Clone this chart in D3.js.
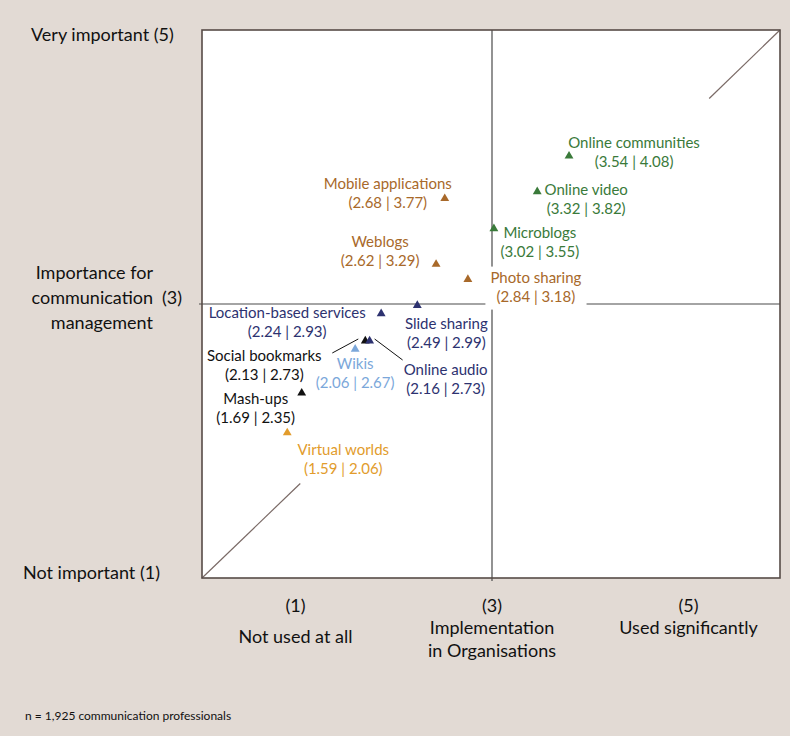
<!DOCTYPE html>
<html>
<head>
<meta charset="utf-8">
<script src="https://cdn.jsdelivr.net/npm/d3@7"></script>
<style>
  body{margin:0;background:#e2dad4;}
  svg{display:block;font-family:Lato,"Open Sans",sans-serif;}
</style>
</head>
<body>
<svg id="drawing_region"></svg>
<script>
// tools, implementation in organisations (x) and importance (y)
const tools = ["Online communities","Online video","Microblogs","Photo sharing","Mobile applications","Weblogs",
  "Location-based services","Slide sharing","Social bookmarks","Online audio","Wikis","Mash-ups","Virtual worlds"]
const implementation = [3.54,3.32,3.02,2.84,2.68,2.62,2.24,2.49,2.13,2.16,2.06,1.69,1.59]
const importance = [4.08,3.82,3.55,3.18,3.77,3.29,2.93,2.99,2.73,2.73,2.67,2.35,2.06]
const groups = ["green","green","green","brown","brown","brown","navy","navy","black","navy","light","black","gold"]
const xTicks = [{v:1,lines:["(1)","","Not used at all"]},{v:3,lines:["(3)","Implementation","in Organisations"]},{v:5,lines:["(5)","Used significantly"]}]
const note = "n = 1,925 communication professionals"

const colors = {green:"#3a7a3a",brown:"#a8692a",navy:"#2d3270",black:"#111",light:"#7ba7da",gold:"#e29c2c"}
// label offsets from point (center of first line)
const offsets = {
  "Online communities":[65,-13],"Online video":[49,-2],"Microblogs":[46,4],"Photo sharing":[68,-2],
  "Mobile applications":[-57,-15],"Weblogs":[-56,-23],"Location-based services":[-94,-1],
  "Slide sharing":[29,18],"Social bookmarks":[-101,15],"Online audio":[76,29],"Wikis":[0,15],
  "Mash-ups":[-46,6],"Virtual worlds":[56,17]
}

const width = 790, height = 736
const margin = {top:30,right:10,bottom:158,left:202}
const svg = d3.select("#drawing_region").attr("width",width).attr("height",height)

const xscale = d3.scaleLinear().domain([1,5]).range([margin.left,width-margin.right])
const yscale = d3.scaleLinear().domain([1,5]).range([height-margin.bottom,margin.top])

svg.append("rect")
  .attr("x",xscale(1)).attr("y",yscale(5))
  .attr("width",xscale(5)-xscale(1)).attr("height",yscale(1)-yscale(5))
  .attr("fill","white")

// diagonal (broken in the middle)
const diag = [[[1,1],[1.68,1.69]],[[4.51,4.5],[5,5]]]
diag.forEach(s=>{
  svg.append("line")
    .attr("x1",xscale(s[0][0])).attr("y1",yscale(s[0][1]))
    .attr("x2",xscale(s[1][0])).attr("y2",yscale(s[1][1]))
    .attr("stroke","#7a6a66").attr("stroke-width",1.2)
})

// midlines
svg.append("line")
  .attr("x1",xscale(3)+1).attr("x2",xscale(3)+1)
  .attr("y1",yscale(5)).attr("y2",yscale(1)+3)
  .attr("stroke","#4a4a4a").attr("stroke-width",1.2)
svg.append("line")
  .attr("x1",xscale(1)-3).attr("x2",xscale(5))
  .attr("y1",yscale(3)).attr("y2",yscale(3))
  .attr("stroke","#4a4a4a").attr("stroke-width",1.2)

// frame
svg.append("rect")
  .attr("x",xscale(1)).attr("y",yscale(5))
  .attr("width",xscale(5)-xscale(1)).attr("height",yscale(1)-yscale(5))
  .attr("fill","none").attr("stroke","#574b47").attr("stroke-width",1.6)

const data = tools.map((t,i)=>({name:t,x:implementation[i],y:importance[i],c:colors[groups[i]]}))

// leader lines
const pt = name=>{const d=data.find(e=>e.name==name);return [xscale(d.x),yscale(d.y)]}
const sb = pt("Social bookmarks"), oa = pt("Online audio")
svg.append("line").attr("x1",sb[0]-33).attr("y1",sb[1]+12).attr("x2",sb[0]-7).attr("y2",sb[1]-2)
  .attr("stroke","#111").attr("stroke-width",1)
svg.append("line").attr("x1",oa[0]+5).attr("y1",oa[1]-2).attr("x2",oa[0]+33).attr("y2",oa[1]+19)
  .attr("stroke","#111").attr("stroke-width",1)

// labels
const labels = svg.append("g").attr("font-size",15)
data.forEach(d=>{
  const o = offsets[d.name]
  const cx = xscale(d.x)+o[0], cy = yscale(d.y)+o[1]
  const g = labels.append("g")
  const t = g.append("text")
    .attr("text-anchor","middle").attr("fill",d.c)
  t.append("tspan").attr("x",cx).attr("y",cy).attr("dy","0.35em").text(d.name)
  t.append("tspan").attr("x",cx).attr("y",cy+19).attr("dy","0.35em")
    .text(`(${d.x.toFixed(2)} | ${d.y.toFixed(2)})`)
  if(d.name=="Photo sharing"){
    const b = t.node().getBBox()
    g.insert("rect","text")
      .attr("x",b.x-5).attr("y",b.y-1).attr("width",b.width+10).attr("height",b.height+6)
      .attr("fill","white")
  }
})

// triangles
svg.append("g").selectAll("path")
  .data(data)
  .enter()
  .append("path")
  .attr("d",d3.symbol().type(d3.symbolTriangle).size(34))
  .attr("transform",d=>`translate(${xscale(d.x)},${yscale(d.y)})`)
  .attr("fill",d=>d.c)

// axis texts: outer columns sit inside the frame, centred on the thirds
const colX = v=>{
  const mid = xscale(3)+1, step = (xscale(5)-xscale(1))*0.34
  return mid+(v-3)/2*step
}
const axisText = svg.append("g").attr("font-size",18).attr("fill","#111")
xTicks.forEach(t=>{
  t.lines.forEach((l,i)=>{
    if(l=="") return
    const y = t.lines[1]=="" && i==2 ? 637 : 606+(i==0?0:22+(i-1)*23)
    axisText.append("text")
      .attr("x",colX(t.v)).attr("y",y).attr("dy","0.35em")
      .attr("text-anchor","middle").text(l)
  })
})
axisText.append("text").attr("x",31).attr("y",yscale(5)+5).attr("dy","0.35em").text("Very important (5)")
axisText.append("text").attr("x",23).attr("y",yscale(1)-5).attr("dy","0.35em").text("Not important (1)")
;["Importance for","communication","management"].forEach((l,i)=>{
  axisText.append("text").attr("x",153).attr("y",yscale(3)-31+i*25).attr("dy","0.35em")
    .attr("text-anchor","end").text(l)
})
axisText.append("text").attr("x",172).attr("y",yscale(3)-6).attr("dy","0.35em")
  .attr("text-anchor","middle").text("(3)")

svg.append("text").attr("x",25).attr("y",716).attr("dy","0.35em")
  .attr("font-size",12).attr("fill","#111").text(note)
</script>
</body>
</html>
